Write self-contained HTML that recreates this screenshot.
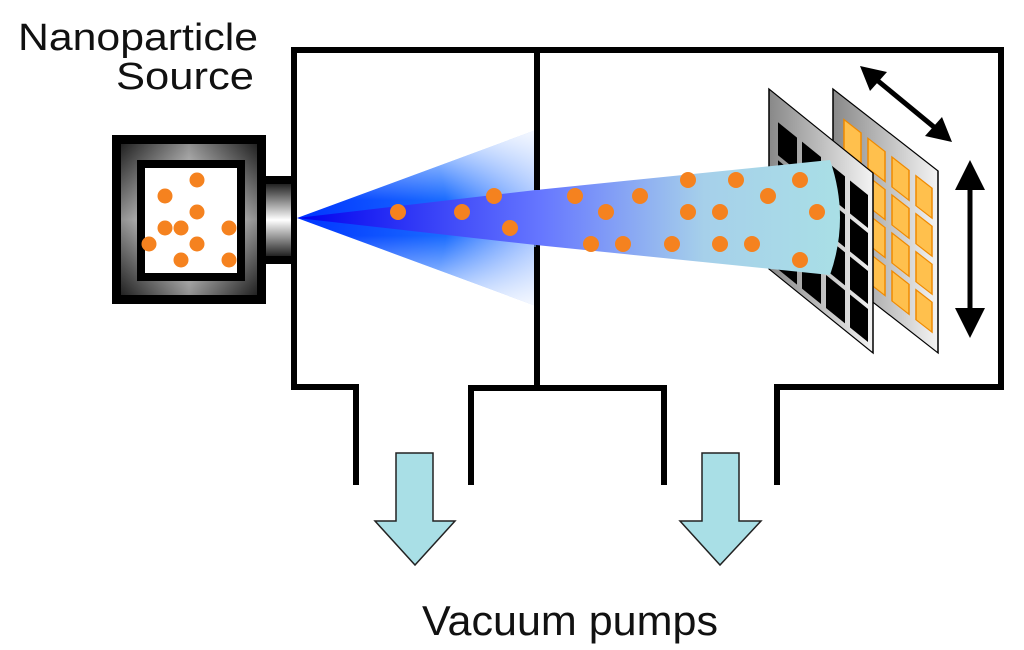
<!DOCTYPE html>
<html><head><style>body{margin:0;background:#fff}svg{display:block}</style></head><body>
<svg width="1024" height="650" viewBox="0 0 1024 650" xmlns="http://www.w3.org/2000/svg">
<defs>
<linearGradient id="ringV" x1="0" y1="0" x2="0" y2="1"><stop offset="0" stop-color="#222"/><stop offset="0.5" stop-color="#fff"/><stop offset="1" stop-color="#222"/></linearGradient>
<linearGradient id="ringH" x1="0" y1="0" x2="1" y2="0"><stop offset="0" stop-color="#222"/><stop offset="0.5" stop-color="#fff"/><stop offset="1" stop-color="#222"/></linearGradient>
<radialGradient id="fan" cx="297" cy="218" r="250" gradientUnits="userSpaceOnUse"><stop offset="0" stop-color="#0033ff"/><stop offset="0.6" stop-color="#1a6cff"/><stop offset="1" stop-color="#6fa0ff" stop-opacity="0.5"/></radialGradient>
<linearGradient id="fanV" x1="0" y1="130" x2="0" y2="306" gradientUnits="userSpaceOnUse"><stop offset="0" stop-color="#fff" stop-opacity="0.85"/><stop offset="0.4" stop-color="#fff" stop-opacity="0"/><stop offset="0.6" stop-color="#fff" stop-opacity="0"/><stop offset="1" stop-color="#fff" stop-opacity="0.85"/></linearGradient>
<linearGradient id="cone" x1="297" y1="0" x2="840" y2="0" gradientUnits="userSpaceOnUse"><stop offset="0" stop-color="#0000ee"/><stop offset="0.45" stop-color="#6677ff"/><stop offset="0.75" stop-color="#a6d0ea"/><stop offset="1" stop-color="#a9dfe6"/></linearGradient>
<linearGradient id="plate" x1="0" y1="0" x2="1" y2="0"><stop offset="0" stop-color="#888"/><stop offset="1" stop-color="#f4f4f4"/></linearGradient>
</defs>

<g font-family="Liberation Sans, sans-serif" fill="#111">
<text x="18" y="50" font-size="38" textLength="240" lengthAdjust="spacingAndGlyphs">Nanoparticle</text>
<text x="116" y="89" font-size="38" textLength="138" lengthAdjust="spacingAndGlyphs">Source</text>
<text x="422" y="635" font-size="42" textLength="296" lengthAdjust="spacingAndGlyphs">Vacuum pumps</text>
</g>

<!-- chamber -->
<g stroke="#000" stroke-width="6" fill="none" stroke-linejoin="miter">
<polyline points="356,485 356,387 294,387 294,50 1001,50 1001,387 777,387 777,485"/>
<line x1="537" y1="50" x2="537" y2="388"/>
<polyline points="471,485 471,388 664,388 664,485"/>
</g>

<!-- source box -->
<rect x="112" y="135" width="154" height="169" fill="#000"/>
<rect x="121" y="144" width="136" height="151" fill="url(#ringH)"/>
<rect x="121" y="144" width="136" height="151" fill="url(#ringV)" opacity="0.5"/>
<rect x="137" y="160" width="108" height="121" fill="#000"/>
<rect x="145" y="168" width="92" height="105" fill="#fff"/>
<rect x="264" y="176" width="28" height="88" fill="#000"/>
<rect x="266" y="184" width="25" height="72" fill="url(#ringV)"/>
<g fill="#f5821f">
<circle cx="197" cy="180" r="7.5"/><circle cx="165" cy="196" r="7.5"/><circle cx="197" cy="212" r="7.5"/>
<circle cx="165" cy="228" r="7.5"/><circle cx="181" cy="228" r="7.5"/><circle cx="229" cy="228" r="7.5"/>
<circle cx="149" cy="244" r="7.5"/><circle cx="197" cy="244" r="7.5"/><circle cx="181" cy="260" r="7.5"/><circle cx="229" cy="260" r="7.5"/>
</g>

<!-- plates -->
<g transform="matrix(1,0.78,0,1,833,89)">
<rect x="0" y="0" width="105" height="182" fill="url(#plate)" stroke="#000" stroke-width="1.5"/>
<g fill="#ffc04d" stroke="#f08a00" stroke-width="1.5">
<rect x="11" y="22" width="17" height="30"/><rect x="35" y="22" width="17" height="30"/><rect x="59" y="22" width="17" height="30"/><rect x="83" y="22" width="16" height="30"/>
<rect x="11" y="60" width="17" height="30"/><rect x="35" y="60" width="17" height="30"/><rect x="59" y="60" width="17" height="30"/><rect x="83" y="60" width="16" height="30"/>
<rect x="11" y="98" width="17" height="30"/><rect x="35" y="98" width="17" height="30"/><rect x="59" y="98" width="17" height="30"/><rect x="83" y="98" width="16" height="30"/>
<rect x="11" y="136" width="17" height="30"/><rect x="35" y="136" width="17" height="30"/><rect x="59" y="136" width="17" height="30"/><rect x="83" y="136" width="16" height="30"/>
</g></g>
<g transform="matrix(1,0.808,0,1,769,89)">
<rect x="0" y="0" width="104" height="180" fill="url(#plate)" stroke="#000" stroke-width="1.5"/>
<g fill="#000">
<rect x="9" y="26" width="19" height="33"/><rect x="33" y="26" width="19" height="33"/><rect x="57" y="26" width="19" height="33"/><rect x="81" y="26" width="18" height="33"/>
<rect x="9" y="64" width="19" height="33"/><rect x="33" y="64" width="19" height="33"/><rect x="57" y="64" width="19" height="33"/><rect x="81" y="64" width="18" height="33"/>
<rect x="9" y="102" width="19" height="33"/><rect x="33" y="102" width="19" height="33"/><rect x="57" y="102" width="19" height="33"/><rect x="81" y="102" width="18" height="33"/>
<rect x="9" y="140" width="19" height="33"/><rect x="33" y="140" width="19" height="33"/><rect x="57" y="140" width="19" height="33"/><rect x="81" y="140" width="18" height="33"/>
</g></g>

<!-- arrows near plates -->
<g stroke="#000" stroke-width="5"><line x1="872" y1="76" x2="940" y2="132"/><line x1="970" y1="180" x2="970" y2="318"/></g>
<g fill="#000">
<polygon points="860,66 887,72 870,91"/><polygon points="952,142 925,136 942,117"/>
<polygon points="970,160 955,190 985,190"/><polygon points="970,338 955,308 985,308"/>
</g>

<!-- fan -->
<polygon points="297,218 536,130 536,306" fill="url(#fan)"/>
<polygon points="297,218 536,130 536,306" fill="url(#fanV)"/>
<!-- cone -->
<path d="M297,218 L536,190 L830,160 Q850,218 830,275 L536,245 Z" fill="url(#cone)"/>
<line x1="537" y1="50" x2="537" y2="388" stroke="#000" stroke-width="6" stroke-dasharray="140 57 200"/>

<g fill="#f5821f">
<circle cx="398" cy="212" r="8"/><circle cx="462" cy="212" r="8"/><circle cx="494" cy="196" r="8"/><circle cx="510" cy="228" r="8"/>
<circle cx="575" cy="196" r="8"/><circle cx="606" cy="212" r="8"/><circle cx="591" cy="244" r="8"/><circle cx="623" cy="244" r="8"/>
<circle cx="640" cy="196" r="8"/><circle cx="672" cy="244" r="8"/><circle cx="688" cy="180" r="8"/><circle cx="688" cy="212" r="8"/>
<circle cx="720" cy="212" r="8"/><circle cx="720" cy="244" r="8"/><circle cx="736" cy="180" r="8"/><circle cx="752" cy="244" r="8"/>
<circle cx="768" cy="196" r="8"/><circle cx="800" cy="180" r="8"/><circle cx="817" cy="212" r="8"/><circle cx="800" cy="260" r="8"/>
</g>

<!-- pump arrows -->
<g fill="#a9dfe6" stroke="#222" stroke-width="1.5">
<polygon points="396,453 433,453 433,521 455,521 415,565 375,521 396,521"/>
<polygon points="702,453 739,453 739,521 761,521 720,565 680,521 702,521"/>
</g>
</svg>
</body></html>
